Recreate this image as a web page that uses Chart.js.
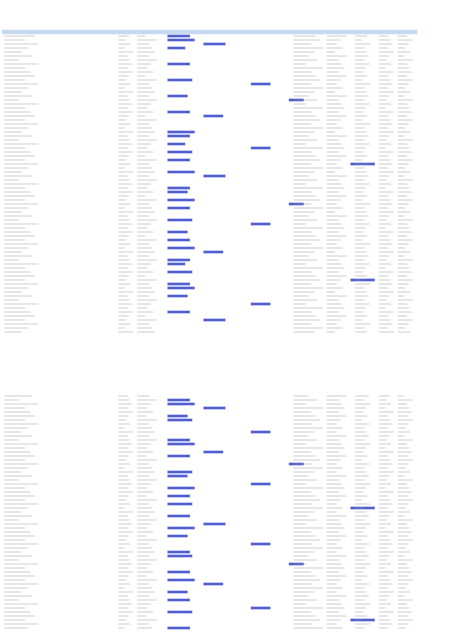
<!DOCTYPE html>
<html><head><meta charset="utf-8">
<script src="https://cdn.jsdelivr.net/npm/chart.js@4"></script>
<style>html,body{margin:0;background:#fff}#w{width:474px;height:632px}</style>
</head><body><div id="w"><canvas id="c"></canvas></div>
<script>
// Rows (sheet row index) and column spans (sheet column units 0-100)
const headerRows = [8];
const headerSpans = [[0.5, 88]];
const blueRows = [9,10,11,12,16,20,21,24,25,28,29,33,34,36,37,38,40,41,43,44,47,48,50,51,52,55,56,58,60,62,63,65,66,68,70,71,72,74,76,78,80,
  100,101,102,104,105,108,110,111,113,114,116,118,119,121,122,124,126,127,129,131,132,134,136,138,139,141,143,145,146,148,150,152,153,155,157];
const blueStarts = [35.4,35.4,43,35.4,35.4,35.4,53,35.4,61,35.4,43,35.4,35.4,35.4,53,35.4,35.4,74,35.4,43,35.4,35.4,35.4,61,35.4,35.4,53,35.4,35.4,35.4,43,35.4,35.4,35.4,74,35.4,35.4,35.4,53,35.4,43,
  35.4,35.4,43,35.4,35.4,53,35.4,35.4,43,35.4,61,35.4,35.4,53,35.4,35.4,35.4,74,35.4,43,35.4,35.4,53,35.4,35.4,61,35.4,35.4,43,35.4,35.4,53,35.4,74,35.4];
const blueEnds = [40,41,47.5,39,40,40.5,57,39.5,64,40,47,41,40,39,57,40.5,40,79,41,47.5,40,39.5,41,64,40,40.5,57,39.5,40,41,47,40,39,40.5,79,40,41,39.5,57,40,47.5,
  40,41,47.5,39.5,40.5,57,40,41,47,40,64,40.5,39.5,57,41,40,40.5,79,40,47.5,41,39.5,57,40,40.5,64,40,41,47,39.5,40,57,40.5,79,40];
const grayRows = [];
const grayStarts = [];
const grayEnds = [];
const textCols = [[1,8],[25,28],[29,33],[62,68],[69,73],[75,78],[80,83],[84,87]];
const textRowsA = [9,10,11,12,13,14,15,16,17,18,19,20,21,22,23,24,25,26,27,28,29,30,31,32,33,34,35,36,37,38,39,40,41,42,43,44,45,46,47,48,49,50,51,52,53,54,55,56,57,58,59,60,61,62,63,64,65,66,67,68,69,70,71,72,73,74,75,76,77,78,79,80,81,82,83];
const textRowsB = [99,100,101,102,103,104,105,106,107,108,109,110,111,112,113,114,115,116,117,118,119,120,121,122,123,124,125,126,127,128,129,130,131,132,133,134,135,136,137,138,139,140,141,142,143,144,145,146,147,148,149,150,151,152,153,154,155,156,157];
const widthsPattern = [0.9,0.6,1,0.7,0.5,0.8,0.4,1,0.6,0.75];
[...textRowsA, ...textRowsB].forEach((r, i) => {
  textCols.forEach((c, j) => {
    const f = widthsPattern[(i + j * 3) % widthsPattern.length];
    grayRows.push(r); grayStarts.push(c[0]); grayEnds.push(c[0] + (c[1] - c[0]) * f);
  });
});
const toData = (rows, s, e) => rows.map((r, i) => ({ y: r, x: [s[i], e[i]] }));
new Chart(document.getElementById('c'), {
  type: 'bar',
  data: { datasets: [
    { data: toData(headerRows, headerSpans.map(d=>d[0]), headerSpans.map(d=>d[1])), backgroundColor: '#c6d9f1', barThickness: 4 },
    { data: toData(grayRows, grayStarts, grayEnds), backgroundColor: 'rgba(150,150,150,0.3)', barThickness: 1 },
    { data: toData(blueRows, blueStarts, blueEnds), backgroundColor: '#4f5fd0', barThickness: 2 }
  ]},
  options: {
    indexAxis: 'y', responsive: true, maintainAspectRatio: false, animation: false,
    layout: { padding: 0 },
    plugins: { legend: { display: false }, tooltip: { enabled: false } },
    scales: {
      x: { type: 'linear', min: 0, max: 100, display: false, offset: false },
      y: { type: 'linear', min: 0, max: 158, reverse: true, display: false, offset: false }
    },
    datasets: { bar: { grouped: false } }
  }
});
</script></body></html>
